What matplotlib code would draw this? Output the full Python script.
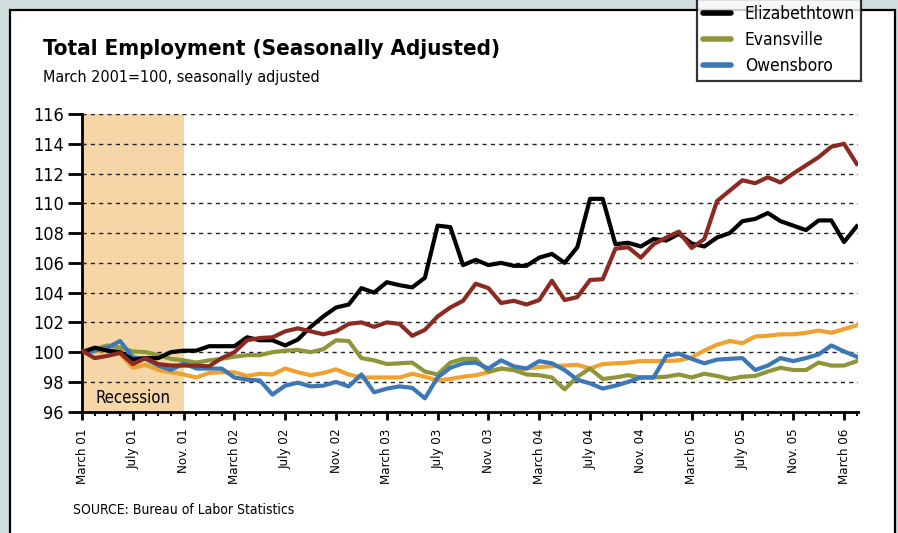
import numpy as np
import matplotlib
matplotlib.use("Agg")
import matplotlib.pyplot as plt
from matplotlib.patches import Rectangle
from matplotlib.lines import Line2D

plt.rcParams['font.family'] = ['DejaVu Sans']
plt.rcParams['font.stretch'] = 'condensed'

# monthly index, March 2001 = 100 (March 2001 .. April 2006)
elizabethtown = [100.0, 100.3, 100.1, 100.0, 99.5, 99.6, 99.6, 100.0, 100.1, 100.1,
                 100.4, 100.4, 100.4, 101.0, 100.8, 100.8, 100.45, 100.85, 101.7, 102.4,
                 103.0, 103.2, 104.3, 104.0, 104.7, 104.5, 104.35, 105.0, 108.5, 108.4,
                 105.85, 106.2, 105.85, 106.0, 105.8, 105.8, 106.35, 106.6, 106.0, 107.05,
                 110.3, 110.3, 107.25, 107.35, 107.1, 107.6, 107.5, 107.95, 107.3, 107.1,
                 107.7, 108.0, 108.8, 108.95, 109.35, 108.8, 108.5, 108.2, 108.85, 108.85,
                 107.4, 108.45]
evansville = [100.0, 100.2, 100.45, 100.3, 100.05, 100.0, 99.8, 99.55, 99.45, 99.3,
              99.45, 99.55, 99.7, 99.8, 99.8, 100.0, 100.1, 100.15, 100.0, 100.2,
              100.8, 100.75, 99.6, 99.45, 99.2, 99.25, 99.3, 98.7, 98.5, 99.3,
              99.55, 99.55, 98.7, 98.9, 98.8, 98.5, 98.45, 98.3, 97.5, 98.35,
              98.9, 98.2, 98.3, 98.45, 98.3, 98.3, 98.35, 98.5, 98.3, 98.55,
              98.4, 98.2, 98.35, 98.4, 98.7, 98.95, 98.8, 98.8, 99.3, 99.1,
              99.1, 99.4]
owensboro = [100.0, 100.1, 100.3, 100.75, 99.65, 99.55, 99.1, 98.8, 99.25, 98.9,
             98.9, 98.9, 98.3, 98.15, 98.1, 97.15, 97.75, 97.95, 97.7, 97.75,
             98.0, 97.7, 98.5, 97.3, 97.55, 97.7, 97.6, 96.9, 98.3, 98.95,
             99.25, 99.3, 98.9, 99.45, 99.05, 98.9, 99.4, 99.25, 98.8, 98.15,
             97.9, 97.55, 97.75, 98.0, 98.3, 98.3, 99.75, 99.9, 99.55, 99.25,
             99.5, 99.55, 99.6, 98.8, 99.1, 99.6, 99.4, 99.6, 99.85, 100.45,
             100.05, 99.7]
kentucky = [100.1, 99.6, 99.75, 99.95, 99.2, 99.6, 99.2, 99.1, 99.1, 99.1,
            99.05, 99.6, 100.0, 100.8, 100.95, 101.0, 101.4, 101.6, 101.4, 101.2,
            101.4, 101.9, 102.0, 101.7, 102.0, 101.9, 101.1, 101.5, 102.4, 103.0,
            103.45, 104.6, 104.3, 103.3, 103.45, 103.2, 103.5, 104.8, 103.5, 103.7,
            104.85, 104.9, 106.95, 107.05, 106.35, 107.25, 107.7, 108.1, 107.0, 107.6,
            110.15, 110.85, 111.55, 111.35, 111.75, 111.4, 112.0, 112.55, 113.1, 113.8,
            114.0, 112.65]
united_states = [100.0, 100.05, 100.15, 99.9, 98.95, 99.15, 98.8, 98.65, 98.5, 98.3,
                 98.6, 98.65, 98.65, 98.4, 98.55, 98.5, 98.9, 98.65, 98.45, 98.6,
                 98.85, 98.5, 98.3, 98.3, 98.3, 98.3, 98.55, 98.35, 98.1, 98.2,
                 98.35, 98.45, 98.65, 98.9, 98.8, 98.9, 99.0, 99.05, 99.1, 99.15,
                 98.9, 99.2, 99.25, 99.3, 99.4, 99.4, 99.4, 99.45, 99.65, 100.1,
                 100.5, 100.75, 100.6, 101.05, 101.1, 101.2, 101.2, 101.3, 101.45, 101.3,
                 101.55, 101.8]

tick_labels = ["March 01", "July 01", "Nov. 01", "March 02", "July 02", "Nov. 02",
               "March 03", "July 03", "Nov. 03", "March 04", "July 04", "Nov. 04",
               "March 05", "July 05", "Nov. 05", "March 06"]
recession_end = 8  # Nov. 01

fig = plt.figure(figsize=(8.98, 5.33), dpi=100, facecolor='#d0dcdd')
panel = Rectangle((10 / 898, -0.05), 885 / 898, 1.05 - 10 / 533,
                  transform=fig.transFigure, facecolor='white',
                  edgecolor='black', lw=1.6, zorder=-5)
fig.patches.append(panel)

ax = fig.add_axes([82 / 898, 1 - 411.7 / 533, 776 / 898, 297.7 / 533], zorder=2)
ax.set_facecolor('none')

x = np.arange(len(elizabethtown))
ax.axvspan(0, recession_end, color='#f6d6a6', lw=0, zorder=0)
ax.text(recession_end / 2, 96.95, 'Recession', ha='center', va='center', fontsize=12)

ax.plot(x, united_states, color='#f0a230', lw=3, zorder=3)
ax.plot(x, evansville, color='#8f963a', lw=3, zorder=3)
ax.plot(x, owensboro, color='#3c78b6', lw=3, zorder=3)
ax.plot(x, elizabethtown, color='black', lw=3, zorder=3)
ax.plot(x, kentucky, color='#8c2a22', lw=3, zorder=3)

ax.set_xlim(0, 61.1)
ax.set_ylim(96, 116)
ax.set_yticks(range(96, 117, 2))
ax.set_xticks(range(0, 4 * len(tick_labels), 4))
ax.set_xticklabels(tick_labels, rotation=90, fontsize=9.5)
ax.set_xticks(range(0, 62), minor=True)
ax.tick_params(axis='y', length=10, width=2, labelsize=13, pad=3)
ax.tick_params(axis='x', which='major', length=6, width=2, pad=6)
ax.tick_params(axis='x', which='minor', length=3, width=1.5)
for s in ['top', 'right']:
    ax.spines[s].set_visible(False)
for s in ['left', 'bottom']:
    ax.spines[s].set_linewidth(2)
ax.yaxis.grid(True, color='#222222', ls=(0, (3, 3)), lw=1)
ax.set_axisbelow(False)
for gl in ax.get_ygridlines():
    gl.set_zorder(1)

fig.text(43 / 898, 1 - 55 / 533, 'Total Employment (Seasonally Adjusted)',
         fontsize=16, fontweight='bold', va='baseline')
fig.text(43 / 898, 1 - 82 / 533, 'March 2001=100, seasonally adjusted',
         fontsize=11.5, va='baseline')
fig.text(73 / 898, 1 - 514 / 533, 'SOURCE: Bureau of Labor Statistics',
         fontsize=10, va='baseline')

handles = [Line2D([], [], color='black', lw=4, solid_capstyle='round'),
           Line2D([], [], color='#8f963a', lw=4, solid_capstyle='round'),
           Line2D([], [], color='#3c78b6', lw=4, solid_capstyle='round')]
leg = fig.legend(handles, ['Elizabethtown', 'Evansville', 'Owensboro'],
                 loc='lower left', bbox_to_anchor=(697 / 898, 1 - 81 / 533),
                 fontsize=12.5, frameon=True, fancybox=False, handlelength=1.6,
                 labelspacing=0.45, borderpad=0.35, handletextpad=0.8,
                 borderaxespad=0)
leg.get_frame().set_edgecolor('black')
leg.get_frame().set_linewidth(1.6)

fig.savefig('out.png', dpi=100, facecolor=fig.get_facecolor())
